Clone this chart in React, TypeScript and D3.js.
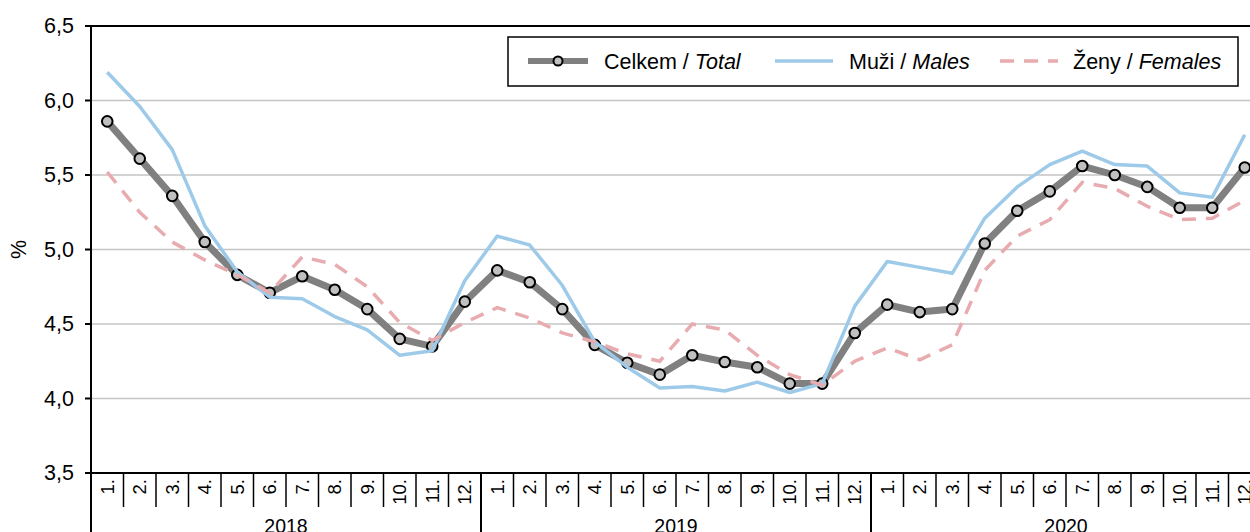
import React from "react";
import * as d3 from "d3";

const years = ["2018", "2019", "2020"];
const months = ["1.", "2.", "3.", "4.", "5.", "6.", "7.", "8.", "9.", "10.", "11.", "12."];
const yTicks = [3.5, 4.0, 4.5, 5.0, 5.5, 6.0, 6.5];

const total = [
  5.86, 5.61, 5.36, 5.05, 4.83, 4.71, 4.82, 4.73, 4.60, 4.40, 4.35, 4.65,
  4.86, 4.78, 4.60, 4.36, 4.24, 4.16, 4.29, 4.245, 4.21, 4.10, 4.10, 4.44,
  4.63, 4.58, 4.60, 5.04, 5.26, 5.39, 5.56, 5.50, 5.42, 5.28, 5.28, 5.55,
];
const males = [
  6.19, 5.96, 5.67, 5.16, 4.85, 4.68, 4.67, 4.55, 4.46, 4.29, 4.32, 4.79,
  5.09, 5.03, 4.76, 4.38, 4.21, 4.07, 4.08, 4.05, 4.11, 4.04, 4.10, 4.62,
  4.92, 4.88, 4.84, 5.21, 5.42, 5.57, 5.66, 5.57, 5.56, 5.38, 5.35, 5.77,
];
const females = [
  5.52, 5.25, 5.05, 4.93, 4.83, 4.71, 4.95, 4.90, 4.75, 4.51, 4.39, 4.51,
  4.61, 4.54, 4.44, 4.38, 4.30, 4.25, 4.50, 4.46, 4.29, 4.16, 4.09, 4.25,
  4.34, 4.26, 4.36, 4.86, 5.09, 5.20, 5.45, 5.41, 5.29, 5.20, 5.21, 5.33,
];

const FONT = "'Liberation Sans', Arial, sans-serif";
const W = 1250;
const H = 532;
const FS = 21.5;

export default function App() {
  const idx = d3.range(total.length);
  const x = d3.scaleBand<number>().domain(idx).range([91, 91 + 32.5 * 36]).padding(0);
  const y = d3.scaleLinear().domain([3.5, 6.5]).range([473, 26]);
  const cx = (i: number) => (x(i) as number) + x.bandwidth() / 2;
  const line = d3
    .line<number>()
    .x((_, i) => cx(i))
    .y((d) => y(d));

  const x0 = 91;
  const bottom = y(3.5);
  const top = y(6.5);

  return (
    <svg
      width={W}
      height={H}
      style={{ position: "absolute", left: 0, top: 0, background: "#fff" }}
      fontFamily={FONT}
    >
      <rect x={0} y={0} width={W} height={H} fill="#fff" />
      {/* grid */}
      {yTicks
        .filter((t) => t > 3.5 && t < 6.5)
        .map((t) => (
          <line key={t} x1={x0} x2={W} y1={y(t)} y2={y(t)} stroke="#c4c4c4" strokeWidth={1.5} />
        ))}
      {/* top border */}
      <line x1={x0} x2={W} y1={top} y2={top} stroke="#000" strokeWidth={2} />
      {/* y ticks & labels */}
      {yTicks.map((t) => (
        <g key={"yt" + t}>
          <line x1={x0 - 6} x2={x0} y1={y(t)} y2={y(t)} stroke="#000" strokeWidth={2} />
          <text
            x={74}
            y={y(t)}
            textAnchor="end"
            dominantBaseline="central"
            fontSize={FS}
            fill="#000"
          >
            {d3.format(".1f")(t).replace(".", ",")}
          </text>
        </g>
      ))}
      <text
        transform={`translate(19,${y(5.0)}) rotate(-90)`}
        textAnchor="middle"
        dominantBaseline="central"
        fontSize={FS}
      >
        %
      </text>
      {/* month separators */}
      {d3.range(37).map((k) => {
        const xx = x0 + k * x.bandwidth();
        const isYear = k % 12 === 0;
        return (
          <line
            key={"sep" + k}
            x1={xx}
            x2={xx}
            y1={bottom}
            y2={isYear ? H : 507}
            stroke="#000"
            strokeWidth={isYear ? 2 : 1.5}
          />
        );
      })}
      {/* month labels */}
      {idx.map((i) => (
        <text
          key={"m" + i}
          transform={`translate(${cx(i)},479) rotate(-90)`}
          textAnchor="end"
          dominantBaseline="central"
          fontSize={18.5}
        >
          {months[i % 12]}
        </text>
      ))}
      {/* year labels */}
      {years.map((yr, k) => (
        <text
          key={yr}
          x={x0 + (k * 12 + 6) * x.bandwidth()}
          y={533}
          textAnchor="middle"
          fontSize={19.5}
        >
          {yr}
        </text>
      ))}
      {/* series */}
      <path d={line(total) || ""} fill="none" stroke="#808080" strokeWidth={7} strokeLinejoin="round" />
      {total.map((v, i) => (
        <circle key={"c" + i} cx={cx(i)} cy={y(v)} r={5.3} fill="#c0c0c0" stroke="#000" strokeWidth={2} />
      ))}
      <path d={line(males) || ""} fill="none" stroke="#9ecae9" strokeWidth={3.5} strokeLinejoin="round" />
      <path
        d={line(females) || ""}
        fill="none"
        stroke="#e8abaf"
        strokeWidth={3.5}
        strokeDasharray="14,10"
      />
      {/* axes on top */}
      <line x1={x0} x2={x0} y1={top - 1} y2={H} stroke="#000" strokeWidth={2} />
      <line x1={x0} x2={W} y1={bottom} y2={bottom} stroke="#000" strokeWidth={2} />
      {/* legend */}
      <g>
        <rect x={508} y={37} width={730} height={49} fill="#fff" stroke="#000" strokeWidth={1.5} />
        <line x1={528} x2={588} y1={61} y2={61} stroke="#808080" strokeWidth={6} />
        <circle cx={558} cy={61} r={4.5} fill="#c0c0c0" stroke="#000" strokeWidth={2} />
        <text x={604} y={62} dominantBaseline="central" fontSize={FS}>
          Celkem / <tspan fontStyle="italic">Total</tspan>
        </text>
        <line x1={775} x2={833} y1={61} y2={61} stroke="#9ecae9" strokeWidth={3.5} />
        <text x={849} y={62} dominantBaseline="central" fontSize={FS}>
          Muži / <tspan fontStyle="italic">Males</tspan>
        </text>
        <line x1={1000} x2={1058} y1={61} y2={61} stroke="#e8abaf" strokeWidth={3.5} strokeDasharray="14,10" />
        <text x={1073} y={62} dominantBaseline="central" fontSize={FS}>
          Ženy / <tspan fontStyle="italic">Females</tspan>
        </text>
      </g>
    </svg>
  );
}
